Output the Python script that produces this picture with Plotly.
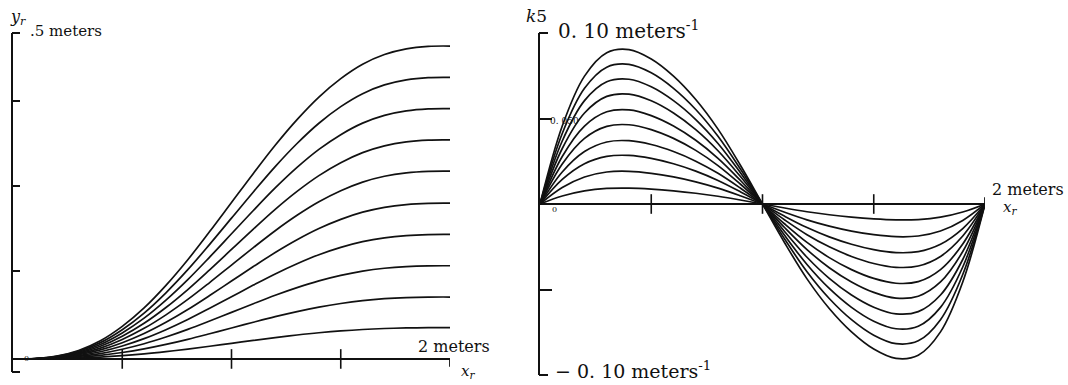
import plotly.graph_objects as go

# ---- data -------------------------------------------------------------
# Station along the path (meters)
x_m = [0.0, 0.1, 0.2, 0.3, 0.4, 0.5, 0.6, 0.7, 0.8, 0.9, 1.0,
       1.1, 1.2, 1.3, 1.4, 1.5, 1.6, 1.7, 1.8, 1.9, 2.0]

# Lateral offset profile, as a fraction of the final offset
path_profile = [0.000, 0.001, 0.009, 0.027, 0.058, 0.104, 0.163, 0.235, 0.317, 0.407, 0.500,
                0.593, 0.683, 0.765, 0.837, 0.896, 0.942, 0.973, 0.991, 0.999, 1.000]

# Final lateral offset of each path (meters)
path_offsets = [0.048, 0.095, 0.143, 0.191, 0.239, 0.288, 0.336, 0.384, 0.432, 0.480]

# Curvature profile, as a fraction of the peak curvature
curv_profile = [0.00, 0.50, 0.82, 0.97, 0.99, 0.93, 0.82, 0.67, 0.48, 0.25, 0.00,
                -0.25, -0.48, -0.67, -0.82, -0.93, -0.99, -0.97, -0.82, -0.50, 0.00]

# Peak curvature of each path (1/meters)
curv_peaks = [0.0094, 0.0193, 0.0287, 0.0374, 0.0468, 0.0556, 0.0649, 0.0737, 0.0825, 0.0912]

# Axis tick positions
x_ticks = [0.5, 1.0, 1.5]
y_ticks_left = [0.135, 0.265, 0.395]
y_ticks_right = [-0.05, 0.05]

# ---- figure -----------------------------------------------------------
W, H = 1068, 385
INK = "#111111"
FONT = "DejaVu Serif, Liberation Serif, serif"


def px(x):
    return x / W


def py(y):
    return 1 - y / H


fig = go.Figure()

for a in path_offsets:
    fig.add_trace(go.Scatter(
        x=x_m, y=[a * p for p in path_profile], mode="lines",
        line=dict(color=INK, width=1.7, shape="spline"),
        xaxis="x", yaxis="y", showlegend=False, hoverinfo="skip"))

for k in curv_peaks:
    fig.add_trace(go.Scatter(
        x=x_m, y=[k * p for p in curv_profile], mode="lines",
        line=dict(color=INK, width=1.7, shape="spline"),
        xaxis="x2", yaxis="y2", showlegend=False, hoverinfo="skip"))

# tick marks crossing the horizontal axes
for xa, ya in (("x", "y"), ("x2", "y2")):
    fig.add_trace(go.Scatter(
        x=x_ticks, y=[0] * len(x_ticks), mode="markers",
        marker=dict(symbol="line-ns", size=14, line=dict(color=INK, width=1.6)),
        xaxis=xa, yaxis=ya, showlegend=False, hoverinfo="skip"))

# end brackets of the horizontal axes
fig.add_shape(type="line", xref="x", yref="y", x0=2, x1=2, y0=0, y1=-0.012,
              line=dict(color=INK, width=1.8))
fig.add_shape(type="line", xref="x2", yref="y2", x0=2, x1=2, y0=0, y1=0.004,
              line=dict(color=INK, width=1.8))

# serifs at both ends of the vertical axes
for x0, ytop, ybot, ln in ((12, 33, 372, 8), (539, 33, 375, 9)):
    for yy in (ytop, ybot):
        fig.add_shape(type="line", xref="paper", yref="paper",
                      x0=px(x0), x1=px(x0 + ln), y0=py(yy), y1=py(yy),
                      line=dict(color=INK, width=2))

yaxis_common = dict(showline=True, linecolor=INK, linewidth=2, ticks="inside",
                    tickwidth=2, tickcolor=INK, showticklabels=False, showgrid=False,
                    zeroline=True, zerolinecolor=INK, zerolinewidth=2, fixedrange=True)

fig.update_layout(
    width=W, height=H,
    margin=dict(l=0, r=0, t=0, b=0),
    paper_bgcolor="white", plot_bgcolor="white",
    xaxis=dict(domain=[px(13), px(450)], range=[0, 2], visible=False, anchor="y"),
    yaxis=dict(domain=[py(372), py(33)], range=[-0.02, 0.5], anchor="x",
               tickvals=y_ticks_left, ticklen=7, **yaxis_common),
    xaxis2=dict(domain=[px(540), px(985)], range=[0, 2], visible=False, anchor="y2"),
    yaxis2=dict(domain=[py(375), py(33)], range=[-0.1, 0.1], anchor="x2",
                tickvals=y_ticks_right, ticklen=12, **yaxis_common),
)


def label(text, x, y, size, xanchor="left"):
    fig.add_annotation(text=text, x=px(x), y=py(y), xref="paper", yref="paper",
                       showarrow=False, xanchor=xanchor, yanchor="middle",
                       font=dict(family=FONT, size=size, color=INK))


# left chart
label("<i>y<sub>r</sub></i>", 8, 17, 16)
label(".5 meters", 28, 31, 15)
label("2 meters", 416, 346, 16)
label("<i>x<sub>r</sub></i>", 459, 371, 15)
label("0", 22, 358, 8)

# right chart
label("<i>k</i>5", 524, 16, 17)
label("0. 10 meters<sup>-1</sup>", 556, 30, 20)
label("− 0. 10 meters<sup>-1</sup>", 553, 370, 19)
label("0. 050", 548, 121, 9)
label("0", 550, 210, 8)
label("2 meters", 990, 189, 16)
label("<i>x<sub>r</sub></i>", 1001, 208, 15)

fig.write_html("out.html", config={"displayModeBar": False})
